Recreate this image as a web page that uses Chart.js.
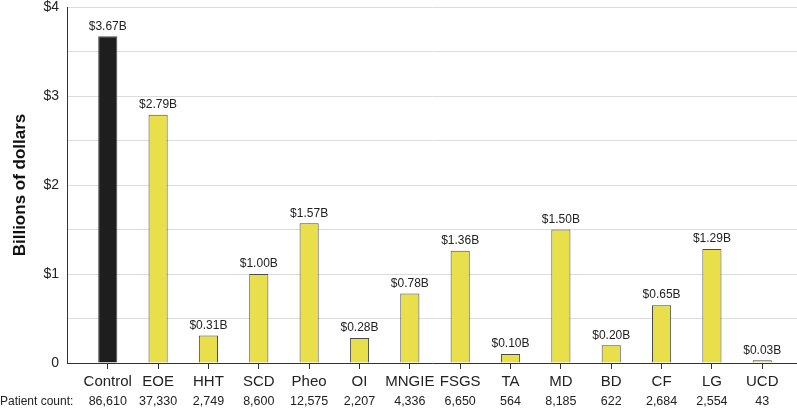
<!DOCTYPE html>
<html>
<head>
<meta charset="utf-8">
<script src="https://cdn.jsdelivr.net/npm/chart.js@4/dist/chart.umd.min.js"></script>
<style>
  html, body { margin: 0; padding: 0; background: #fff; }
  #costChart { display: block; }
</style>
</head>
<body>
<canvas id="costChart" width="797" height="409"></canvas>
<script>
// data
const categories = ["Control", "EOE", "HHT", "SCD", "Pheo", "OI", "MNGIE", "FSGS", "TA", "MD", "BD", "CF", "LG", "UCD"];
const costs = [3.67, 2.79, 0.31, 1.00, 1.57, 0.28, 0.78, 1.26, 0.10, 1.50, 0.20, 0.65, 1.28, 0.03];
const costLabels = ["$3.67B", "$2.79B", "$0.31B", "$1.00B", "$1.57B", "$0.28B", "$0.78B", "$1.36B", "$0.10B", "$1.50B", "$0.20B", "$0.65B", "$1.29B", "$0.03B"];
const patientCounts = ["86,610", "37,330", "2,749", "8,600", "12,575", "2,207", "4,336", "6,650", "564", "8,185", "622", "2,684", "2,554", "43"];
const yTicks = [0, 0.5, 1, 1.5, 2, 2.5, 3, 3.5, 4];

const FONT = "'Liberation Sans', Arial, sans-serif";

// label nilai di atas batang + baris jumlah pasien
const annotatePlugin = {
    id: "annotate",
    afterDatasetsDraw(chart) {
        const ctx = chart.ctx;
        const meta = chart.getDatasetMeta(0);
        ctx.save();
        ctx.fillStyle = "#222";
        ctx.font = "12px " + FONT;
        ctx.textAlign = "center";
        ctx.textBaseline = "bottom";
        meta.data.forEach((bar, i) => {
            ctx.fillText(costLabels[i], bar.x, bar.y - 4);
        });
        ctx.restore();
    },
    afterDraw(chart) {
        const ctx = chart.ctx;
        const x = chart.scales.x;
        ctx.save();
        ctx.fillStyle = "#222";
        ctx.font = "12px " + FONT;
        ctx.textBaseline = "middle";
        ctx.textAlign = "left";
        ctx.fillText("Patient count:", 0, 402);
        ctx.font = "12.5px " + FONT;
        ctx.textAlign = "center";
        patientCounts.forEach((c, i) => {
            ctx.fillText(c, x.getPixelForValue(i), 402);
        });
        ctx.restore();
    }
};

new Chart(document.getElementById("costChart"), {
    type: "bar",
    data: {
        datasets: [{
            data: costs.map((v, i) => ({ x: i, y: v })),
            backgroundColor: categories.map((c, i) => i === 0 ? "#1e1e1e" : "#e8df4a"),
            borderColor: "#4a4a4a",
            borderWidth: 1,
            barPercentage: 0.38,
            categoryPercentage: 1
        }]
    },
    options: {
        responsive: false,
        animation: false,
        layout: { padding: { left: 0, right: 0, top: 7, bottom: 14 } },
        plugins: {
            legend: { display: false },
            tooltip: { enabled: false }
        },
        scales: {
            x: {
                type: "linear",
                min: -0.79,
                max: 13.69,
                offset: false,
                afterBuildTicks: axis => {
                    axis.ticks = categories.map((c, i) => ({ value: i }));
                },
                grid: { offset: false, drawOnChartArea: false, drawTicks: true, tickLength: 6, color: "#333", lineWidth: 1 },
                border: { display: true, color: "#333", width: 1 },
                ticks: {
                    color: "#222",
                    font: { size: 15, family: FONT },
                    padding: 4,
                    maxRotation: 0,
                    autoSkip: false,
                    callback: v => categories[v] ?? ""
                }
            },
            y: {
                min: 0,
                max: 4,
                afterBuildTicks: axis => {
                    axis.ticks = yTicks.map(v => ({ value: v }));
                },
                afterFit: axis => {
                    axis.paddingTop = 0;
                },
                grid: { color: "#dcdcdc", drawTicks: false },
                border: { display: true, color: "#333", width: 1 },
                ticks: {
                    color: "#222",
                    font: { size: 14, family: FONT },
                    padding: 9,
                    callback: v => v === 0 ? "0" : (Number.isInteger(v) ? "$" + v : "")
                },
                title: {
                    display: true,
                    text: "Billions of dollars",
                    color: "#111",
                    font: { size: 17, weight: "bold", family: FONT },
                    padding: { top: 10, bottom: 4 }
                }
            }
        }
    },
    plugins: [annotatePlugin]
});
</script>
</body>
</html>
